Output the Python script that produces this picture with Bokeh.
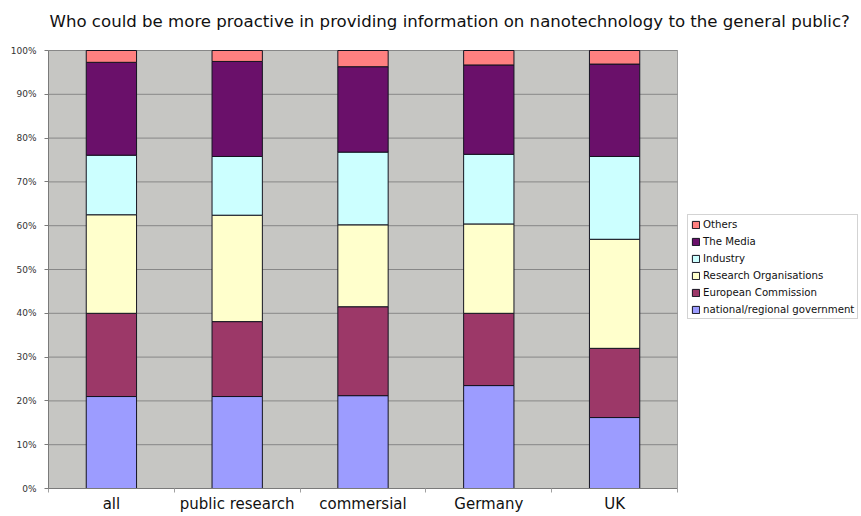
from bokeh.plotting import figure
from bokeh.models import (ColumnDataSource, FixedTicker, Legend, LegendItem, Range1d, Label)
from bokeh.embed import file_html
from bokeh.resources import INLINE

categories = ["all", "public research", "commersial", "Germany", "UK"]
series_names = ["national/regional government", "European Commission", "Research Organisations",
                "Industry", "The Media", "Others"]
national = [21.0, 21.0, 21.2, 23.5, 16.2]
european = [19.0, 17.1, 20.3, 16.5, 15.8]
research = [22.5, 24.3, 18.7, 20.4, 24.9]
industry = [13.6, 13.4, 16.6, 15.9, 18.9]
media = [21.2, 21.7, 19.5, 20.4, 21.1]
others = [2.7, 2.5, 3.7, 3.3, 3.1]
y_ticks = [0, 10, 20, 30, 40, 50, 60, 70, 80, 90, 100]
y_tick_labels = ["0%", "10%", "20%", "30%", "40%", "50%", "60%", "70%", "80%", "90%", "100%"]
title_text = "Who could be more proactive in providing information on nanotechnology to the general public?"

colors = ["#9c9cff", "#9c3868", "#ffffcc", "#ccffff", "#6a106a", "#ff8080"]
FONT = "DejaVu Sans"

# layout (pixels)
W, H = 860, 515
LEFT, BOTTOM_BORDER = 48, 27
PLOT_RIGHT, PLOT_TOP, PLOT_BOTTOM = 677, 50, 488
frame_w = W - LEFT
frame_h = H - BOTTOM_BORDER
n = len(categories)
x_end = n * frame_w / (PLOT_RIGHT - LEFT)
y_end = 100.0 * frame_h / (PLOT_BOTTOM - PLOT_TOP)

xs = [i + 0.5 for i in range(n)]
keys = ["national", "european", "research", "industry", "media", "others"]
data = dict(x=xs, national=national, european=european, research=research,
            industry=industry, media=media, others=others)
source = ColumnDataSource(data)

p = figure(width=W, height=H, output_backend="svg", toolbar_location=None,
           x_range=Range1d(0, x_end), y_range=Range1d(0, y_end),
           min_border_left=LEFT, min_border_right=0, min_border_top=0,
           min_border_bottom=BOTTOM_BORDER)

p.background_fill_color = "white"
p.border_fill_color = "white"
p.outline_line_color = None
p.xgrid.visible = False
p.ygrid.visible = False

# plot area background
p.quad(left=[0], right=[n], bottom=[0], top=[100], fill_color="#c6c6c3",
       line_color="#a0a0a0", line_width=1)
# horizontal gridlines
p.segment(x0=[0] * len(y_ticks), x1=[n] * len(y_ticks), y0=y_ticks, y1=y_ticks,
          line_color="#878787", line_width=1)

renderers = p.vbar_stack(keys, x="x", width=0.4, source=source, color=colors,
                         line_color="#141420", line_width=1)

p.yaxis.bounds = (0, 100)
p.yaxis.ticker = FixedTicker(ticks=y_ticks)
p.yaxis.major_label_overrides = {t: l for t, l in zip(y_ticks, y_tick_labels)}
p.yaxis.major_label_text_font = FONT
p.yaxis.major_label_text_font_size = "9px"
p.yaxis.major_label_text_color = "#333333"
p.yaxis.major_label_standoff = 8
p.yaxis.major_tick_out = 4
p.yaxis.major_tick_in = 0
p.yaxis.minor_tick_out = 0
p.yaxis.minor_tick_in = 0
p.yaxis.axis_line_color = "#7a7a7a"
p.yaxis.major_tick_line_color = "#7a7a7a"

p.xaxis.bounds = (0, n)
p.xaxis.ticker = FixedTicker(ticks=xs, minor_ticks=list(range(n + 1)))
p.xaxis.major_label_overrides = {x: c for x, c in zip(xs, categories)}
p.xaxis.major_label_text_font = FONT
p.xaxis.major_label_text_font_size = "15px"
p.xaxis.major_label_text_color = "#111111"
p.xaxis.major_label_standoff = 2
p.xaxis.major_tick_out = 0
p.xaxis.major_tick_in = 0
p.xaxis.minor_tick_out = 4
p.xaxis.minor_tick_in = 0
p.xaxis.axis_line_color = "#7a7a7a"
p.xaxis.minor_tick_line_color = "#a0a0a0"

title = Label(x=1, y=frame_h - 21, x_units="screen", y_units="screen", text=title_text,
              text_font=FONT, text_font_size="16.6px", text_color="#111111",
              text_baseline="alphabetic", text_align="left")
p.add_layout(title)

items = [LegendItem(label=series_names[i], renderers=[renderers[i]]) for i in reversed(range(6))]
legend = Legend(items=items, location=(687 - LEFT, PLOT_BOTTOM - 319), orientation="vertical",
                label_text_font=FONT, label_text_font_size="10.2px", label_text_color="#111111",
                glyph_width=9, glyph_height=9, label_height=12, label_standoff=3,
                spacing=5, padding=3, margin=0,
                border_line_color="#a8a8a8", border_line_width=1,
                background_fill_color="white", background_fill_alpha=1.0)
p.add_layout(legend, "center")

open("out.html", "w").write(file_html(p, INLINE))
